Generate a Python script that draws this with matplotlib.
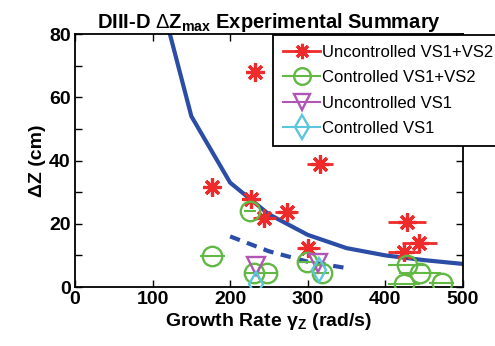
import matplotlib
matplotlib.use("Agg")
import matplotlib.pyplot as plt

plt.rcParams['font.family'] = ['Liberation Sans', 'DejaVu Sans']
plt.rcParams['mathtext.fontset'] = 'custom'
plt.rcParams['mathtext.rm'] = 'Liberation Sans'
plt.rcParams['mathtext.bf'] = 'Liberation Sans:bold'

# model curves
fit_x = [100, 150, 200, 250, 300, 350, 400, 450, 500]
fit_y = [101, 54, 33, 23, 16.5, 12.3, 10, 8.5, 7.3]
fit2_x = [200, 250, 300, 350]
fit2_y = [16, 11.3, 8, 6]

# uncontrolled VS1+VS2
unc12_x = [232, 316, 177, 227, 244, 273, 301, 428, 444, 424]
unc12_y = [68, 39, 31.5, 27.7, 21.7, 23.8, 12.2, 20.7, 14, 11.2]
unc12_err = [5, 17, 4, 12, 15, 15, 15, 24, 23, 21]

# controlled VS1+VS2
con12_x = [177, 226, 231, 247, 299, 318, 428, 445, 424, 473]
con12_y = [9.8, 24.1, 4.3, 4.3, 8, 4.3, 7, 4.3, 1, 1.4]
con12_err = [16, 8, 10, 15, 10, 10, 25, 27, 21, 16]

# uncontrolled / controlled VS1
unc1_x = [233.5, 312.7]
unc1_y = [6.6, 7.5]
con1_x = [233.5, 314]
con1_y = [1, 5.4]

blue = '#2B4DA6'
red = '#EE2A2A'
green = '#62B844'
magenta = '#B055B5'
cyan = '#5CC6DC'

fig = plt.figure(figsize=(4.95, 3.46), dpi=100)
ax = fig.add_axes([0.1515, 0.1705, 0.7835, 0.7312])

ax.plot(fit_x, fit_y, color=blue, lw=3, zorder=2)
ax.plot(fit2_x, fit2_y, color=blue, lw=3, ls=(0, (2.5, 1.8)), zorder=2)

ax.errorbar(unc12_x, unc12_y, xerr=unc12_err, fmt='none', ecolor=red,
            elinewidth=2, capsize=0, zorder=3)
ax.plot(unc12_x, unc12_y, ls='none', marker=(8, 2, 0), ms=13, mew=2.3,
        color=red, zorder=4)
ax.errorbar(con12_x, con12_y, xerr=con12_err, fmt='none', ecolor=green,
            elinewidth=1.5, capsize=0, zorder=3)
ax.plot(con12_x, con12_y, ls='none', marker='o', ms=14, mew=1.7,
        mfc='none', color=green, zorder=4)
ax.plot(unc1_x, unc1_y, ls='none', marker='v', ms=13, mew=1.7,
        mfc='none', color=magenta, zorder=5)
ax.plot(con1_x, con1_y, ls='none', marker='d', ms=12, mew=1.7,
        mfc='none', color=cyan, zorder=5)

# legend handles
h1, = ax.plot([], [], color=red, lw=2, marker=(8, 2, 0), ms=11, mew=2.2)
h2, = ax.plot([], [], color=green, lw=1.5, marker='o', ms=12, mew=1.7, mfc='none')
h3, = ax.plot([], [], color=magenta, lw=1.5, marker='v', ms=12, mew=1.7, mfc='none')
h4, = ax.plot([], [], color=cyan, lw=1.5, marker='d', ms=12, mew=1.7, mfc='none')
leg = fig.legend([h1, h2, h3, h4],
                 ['Uncontrolled VS1+VS2', 'Controlled VS1+VS2',
                  'Uncontrolled VS1', 'Controlled VS1'],
                 loc='upper left', bbox_to_anchor=(0.552, 0.899),
                 fancybox=False, framealpha=1, edgecolor='black',
                 fontsize=12, handlelength=2.2, handletextpad=0.15,
                 labelspacing=0.62, borderpad=0.6, borderaxespad=0)
leg.get_frame().set_linewidth(1.3)

ax.set_xlim(0, 500)
ax.set_ylim(0, 80)
ax.set_xticks([0, 100, 200, 300, 400, 500])
ax.set_yticks(range(0, 81, 10))
ax.set_yticklabels(['0', '', '20', '', '40', '', '60', '', '80'])
ax.tick_params(direction='in', top=True, right=True, length=5, width=1,
               labelsize=14, pad=3)
for lab in ax.get_xticklabels() + ax.get_yticklabels():
    lab.set_fontweight('bold')
for sp in ax.spines.values():
    sp.set_linewidth(1.3)

ax.set_title(r'DIII-D $\Delta$Z$_{\mathbf{max}}$ Experimental Summary',
             fontsize=14.5, fontweight='bold', pad=4)
ax.set_xlabel(r'Growth Rate γ$_{\mathbf{Z}}$ (rad/s)', fontsize=14,
              fontweight='bold', labelpad=2)
ax.set_ylabel('ΔZ (cm)', fontsize=14, fontweight='bold', labelpad=2)

fig.savefig('out.png', dpi=100)
